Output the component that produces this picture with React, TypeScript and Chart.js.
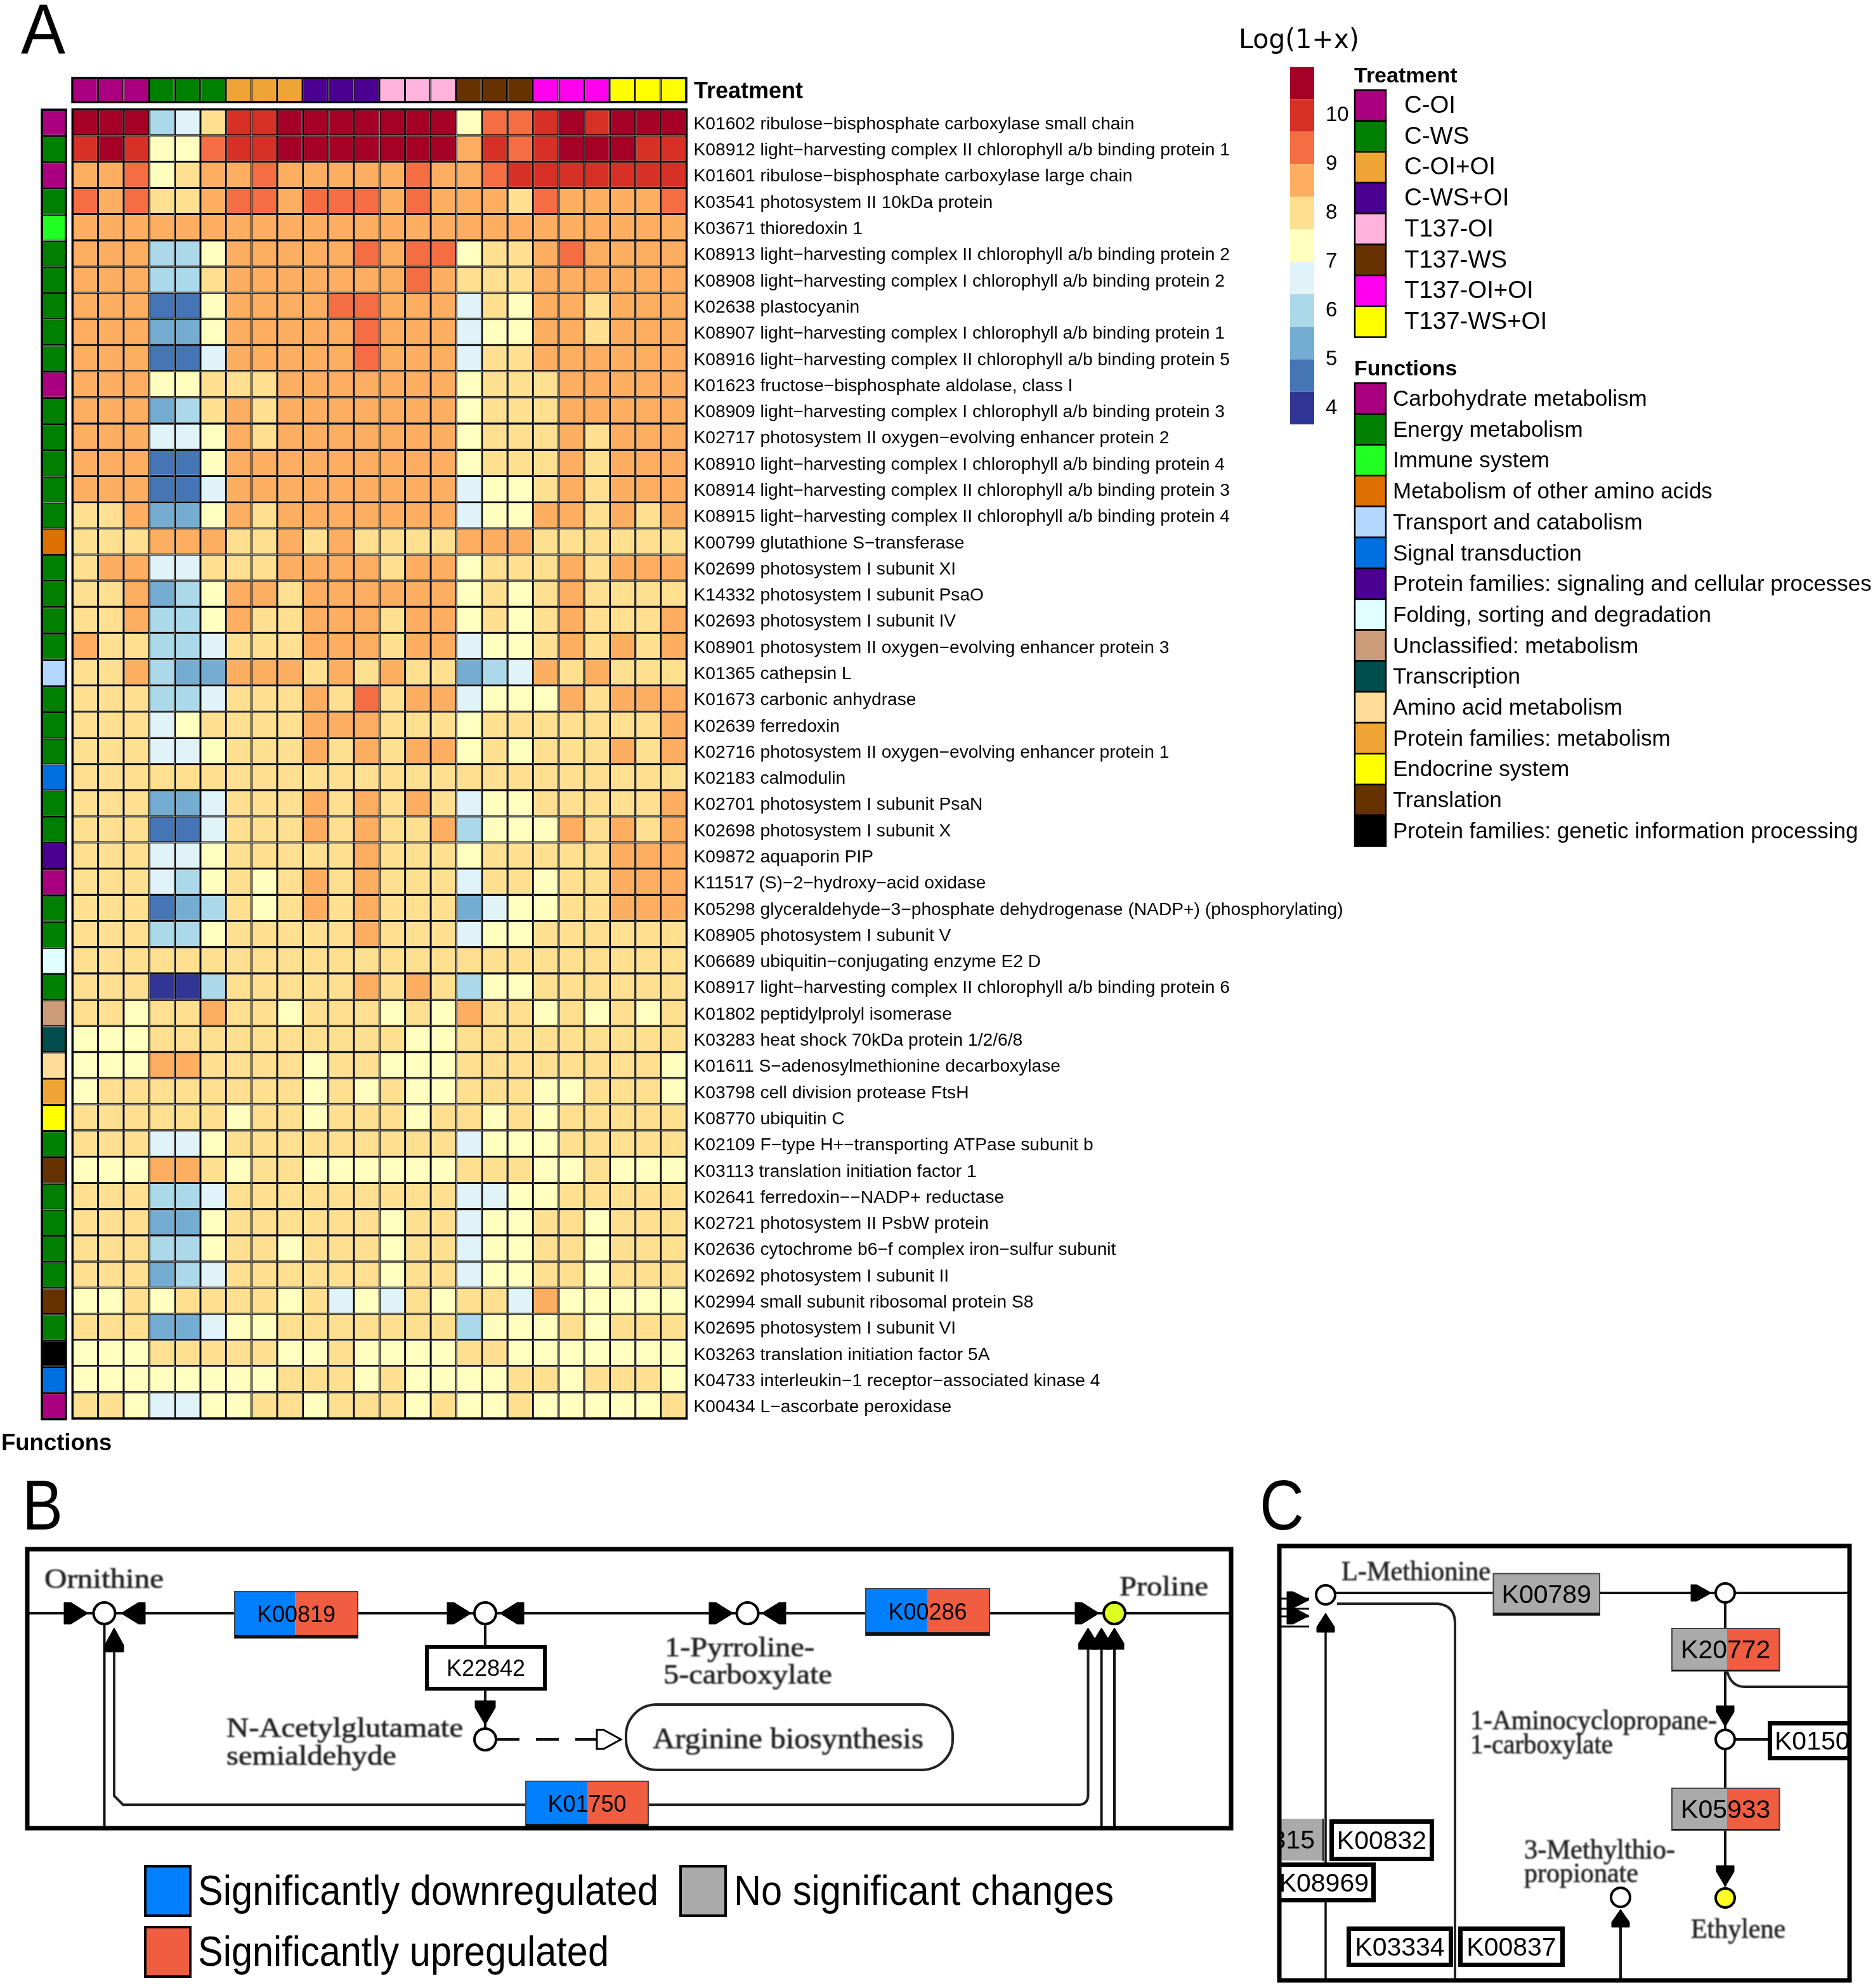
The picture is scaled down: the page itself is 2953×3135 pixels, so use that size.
import React, { useEffect, useRef } from "react";
import { Chart, registerables } from "chart.js";

Chart.register(...registerables);

const treatments = ["C-OI", "C-WS", "C-OI+OI", "C-WS+OI", "T137-OI", "T137-WS", "T137-OI+OI", "T137-WS+OI"];
const treatmentColors = ["#AA007F", "#008000", "#EFA535", "#4B0091", "#FFB3DD", "#663300", "#FF00EE", "#FFFF00"];
const replicates = [1, 2, 3];

const functionNames = [
  "Carbohydrate metabolism",
  "Energy metabolism",
  "Immune system",
  "Metabolism of other amino acids",
  "Transport and catabolism",
  "Signal transduction",
  "Protein families: signaling and cellular processes",
  "Folding, sorting and degradation",
  "Unclassified: metabolism",
  "Transcription",
  "Amino acid metabolism",
  "Protein families: metabolism",
  "Endocrine system",
  "Translation",
  "Protein families: genetic information processing",
];
const functionColors = ["#AA007F", "#008000", "#22FF22", "#DD7000", "#B3D7FF", "#0070E0", "#4B0091", "#E0FFFF", "#CC9B78", "#004D4D", "#FFDD99", "#EFA535", "#FFFF00", "#663300", "#000000"];

const rowLabels = [
  "K01602 ribulose−bisphosphate carboxylase small chain",
  "K08912 light−harvesting complex II chlorophyll a/b binding protein 1",
  "K01601 ribulose−bisphosphate carboxylase large chain",
  "K03541 photosystem II 10kDa protein",
  "K03671 thioredoxin 1",
  "K08913 light−harvesting complex II chlorophyll a/b binding protein 2",
  "K08908 light−harvesting complex I chlorophyll a/b binding protein 2",
  "K02638 plastocyanin",
  "K08907 light−harvesting complex I chlorophyll a/b binding protein 1",
  "K08916 light−harvesting complex II chlorophyll a/b binding protein 5",
  "K01623 fructose−bisphosphate aldolase, class I",
  "K08909 light−harvesting complex I chlorophyll a/b binding protein 3",
  "K02717 photosystem II oxygen−evolving enhancer protein 2",
  "K08910 light−harvesting complex I chlorophyll a/b binding protein 4",
  "K08914 light−harvesting complex II chlorophyll a/b binding protein 3",
  "K08915 light−harvesting complex II chlorophyll a/b binding protein 4",
  "K00799 glutathione S−transferase",
  "K02699 photosystem I subunit XI",
  "K14332 photosystem I subunit PsaO",
  "K02693 photosystem I subunit IV",
  "K08901 photosystem II oxygen−evolving enhancer protein 3",
  "K01365 cathepsin L",
  "K01673 carbonic anhydrase",
  "K02639 ferredoxin",
  "K02716 photosystem II oxygen−evolving enhancer protein 1",
  "K02183 calmodulin",
  "K02701 photosystem I subunit PsaN",
  "K02698 photosystem I subunit X",
  "K09872 aquaporin PIP",
  "K11517 (S)−2−hydroxy−acid oxidase",
  "K05298 glyceraldehyde−3−phosphate dehydrogenase (NADP+) (phosphorylating)",
  "K08905 photosystem I subunit V",
  "K06689 ubiquitin−conjugating enzyme E2 D",
  "K08917 light−harvesting complex II chlorophyll a/b binding protein 6",
  "K01802 peptidylprolyl isomerase",
  "K03283 heat shock 70kDa protein 1/2/6/8",
  "K01611 S−adenosylmethionine decarboxylase",
  "K03798 cell division protease FtsH",
  "K08770 ubiquitin C",
  "K02109 F−type H+−transporting ATPase subunit b",
  "K03113 translation initiation factor 1",
  "K02641 ferredoxin−−NADP+ reductase",
  "K02721 photosystem II PsbW protein",
  "K02636 cytochrome b6−f complex iron−sulfur subunit",
  "K02692 photosystem I subunit II",
  "K02994 small subunit ribosomal protein S8",
  "K02695 photosystem I subunit VI",
  "K03263 translation initiation factor 5A",
  "K04733 interleukin−1 receptor−associated kinase 4",
  "K00434 L−ascorbate peroxidase",
];

const rowFunctions = [0, 1, 0, 1, 2, 1, 1, 1, 1, 1, 0, 1, 1, 1, 1, 1, 3, 1, 1, 1, 1, 4, 1, 1, 1, 5, 1, 1, 6, 0, 1, 1, 7, 1, 8, 9, 10, 11, 12, 1, 13, 1, 1, 1, 1, 13, 1, 14, 5, 0];

const heatValues = [
  [10.6,10.6,10.6, 6,6.6,8, 10,10,10.6, 10.6,10.6,10.6, 10.6,10.6,10.6, 7.3,9.3,9.3, 10,10.6,10, 10.6,10.6,10.6],
  [10,10.6,10, 7.3,7.3,9.3, 10,10,10.6, 10.6,10.6,10.6, 10.6,10.6,10.6, 8.6,10,9.3, 10,10.6,10.6, 10.6,10,10],
  [8.6,8.6,9.3, 7.3,8,8.6, 8.6,9.3,8.6, 8.6,8.6,8.6, 8.6,9.3,8.6, 8.6,9.3,10, 10,10,10, 10,10,10],
  [9.3,8.6,9.3, 8,8,8.6, 9.3,9.3,8.6, 9.3,9.3,9.3, 8.6,9.3,8.6, 8.6,8.6,8, 9.3,8.6,8.6, 8.6,8.6,9.3],
  [8.6,8.6,8.6, 8.6,8.6,8.6, 8.6,8.6,8.6, 8.6,8.6,8.6, 8.6,8.6,8.6, 8.6,8.6,8.6, 8.6,8.6,8.6, 8.6,8.6,8.6],
  [8.6,8.6,8.6, 6,6,7.3, 8.6,8.6,8.6, 8.6,8.6,9.3, 8.6,9.3,9.3, 7.3,8,8, 8.6,9.3,8.6, 8.6,8.6,8.6],
  [8.6,8.6,8.6, 6,6,8, 8.6,8.6,8.6, 8.6,8.6,8.6, 8.6,9.3,8.6, 8,8,8, 8.6,8.6,8.6, 8.6,8.6,8.6],
  [8.6,8.6,8.6, 4.6,4.6,7.3, 8.6,8.6,8.6, 8.6,9.3,9.3, 8.6,8.6,8.6, 6.6,8,7.3, 8.6,8.6,8, 8.6,8.6,8.6],
  [8.6,8.6,8.6, 5.3,5.3,7.3, 8.6,8.6,8.6, 8.6,8.6,9.3, 8.6,8.6,8.6, 6.6,7.3,7.3, 8.6,8.6,8, 8.6,8.6,8.6],
  [8.6,8.6,8.6, 4.6,4.6,6.6, 8.6,8.6,8.6, 8.6,8.6,9.3, 8.6,8.6,8.6, 6.6,8,8, 8.6,8.6,8.6, 8.6,8.6,8.6],
  [8.6,8.6,8.6, 7.3,7.3,8, 8,8,8.6, 8.6,8.6,8.6, 8.6,8.6,8.6, 7.3,8,8, 8,8.6,8.6, 8.6,8.6,8.6],
  [8.6,8.6,8.6, 5.3,6,8, 8.6,8,8.6, 8.6,8.6,8.6, 8.6,8.6,8.6, 7.3,8,8, 8,8.6,8.6, 8.6,8.6,8.6],
  [8.6,8.6,8.6, 6.6,6.6,7.3, 8.6,8,8.6, 8.6,8.6,8.6, 8.6,8.6,8.6, 7.3,8,8, 8,8.6,8, 8.6,8.6,8.6],
  [8.6,8.6,8.6, 4.6,4.6,7.3, 8.6,8.6,8.6, 8.6,8.6,8.6, 8.6,8.6,8.6, 7.3,8,8, 8,8.6,8, 8.6,8.6,8.6],
  [8.6,8.6,8.6, 4.6,4.6,6.6, 8.6,8.6,8.6, 8.6,8.6,8.6, 8.6,8.6,8.6, 6.6,7.3,7.3, 8,8.6,8, 8.6,8.6,8.6],
  [8,8,8.6, 5.3,5.3,7.3, 8.6,8,8.6, 8.6,8.6,8.6, 8.6,8.6,8.6, 6.6,7.3,7.3, 8.6,8.6,8, 8.6,8,8.6],
  [8,8,8, 8.6,8.6,8.6, 8,8,8.6, 8,8.6,8, 8,8,8, 8.6,8.6,8.6, 8,8,8, 8,8,8],
  [8,8.6,8.6, 6.6,6.6,8, 8,8,8.6, 8.6,8.6,8.6, 8,8.6,8.6, 7.3,8,8, 8,8.6,8, 8.6,8.6,8.6],
  [8,8,8.6, 5.3,6,7.3, 8.6,8.6,8, 8.6,8.6,8.6, 8.6,8.6,8.6, 7.3,8,7.3, 8,8.6,8, 8,8,8],
  [8,8,8.6, 6,6,7.3, 8.6,8,8, 8.6,8.6,8.6, 8,8.6,8.6, 7.3,8,7.3, 8,8.6,8, 8,8,8.6],
  [8.6,8,8, 6,6,6.6, 8,8,8, 8.6,8.6,8.6, 8,8.6,8.6, 6.6,7.3,7.3, 8,8.6,8, 8.6,8,8.6],
  [8,8,8.6, 6,5.3,5.3, 8.6,8.6,8.6, 8,8.6,8, 8.6,8,8, 5.3,6,6.6, 8.6,8,8.6, 8,8,8],
  [8,8,8, 6,6,6.6, 8,8,8, 8.6,8,9.3, 8,8.6,8.6, 6.6,7.3,7.3, 7.3,8.6,8, 8.6,8.6,8.6],
  [8,8,8, 6.6,7.3,8, 8,8,8, 8.6,8.6,8.6, 8,8,8, 7.3,8,8, 8,8,8, 8,8,8.6],
  [8,8,8, 6.6,6.6,7.3, 8,8,8, 8.6,8,8.6, 8,8.6,8.6, 7.3,8,7.3, 8,8,8, 8.6,8,8.6],
  [8,8,8, 8,8,8, 8,8,8, 8,8,8, 8,8,8, 8,8,8, 8,8,8, 8,8,8],
  [8,8,8, 5.3,5.3,6.6, 8,8,8, 8.6,8,8.6, 8,8.6,8, 6.6,7.3,7.3, 8,8,8, 8,8,8.6],
  [8,8,8, 4.6,4.6,6.6, 8,8,8, 8.6,8,8.6, 8,8,8.6, 6,7.3,7.3, 7.3,8.6,8, 8.6,8,8.6],
  [8,8,8, 6.6,6.6,7.3, 8,8,8, 8,8,8.6, 8,8,8, 7.3,8,8, 8,8,8, 8.6,8.6,8.6],
  [8,8,8, 6.6,6,7.3, 8,7.3,8, 8.6,8,8.6, 8,8,8, 6.6,8,8, 7.3,8,8, 8.6,8.6,8.6],
  [8,8,8, 4.6,5.3,6, 8,7.3,8, 8.6,8,8.6, 8,8,8, 5.3,6.6,7.3, 7.3,8,8, 8.6,8.6,8.6],
  [8,8,8, 6,6,7.3, 8,8,8, 8,8,8.6, 8,8,8, 6.6,7.3,7.3, 8,8,8, 8,8,8],
  [8,8,8, 8,8,8, 8,8,8, 8,8,8, 8,8,8, 8,8,8, 8,8,8, 8,8,8],
  [8,8,8, 4,4,6, 8,8,8, 8,8,8.6, 8,8.6,8, 6,7.3,7.3, 8,8,8, 8,8,8],
  [8,8,7.3, 8,8,8.6, 8,8,7.3, 8,8,8, 7.3,8,7.3, 8.6,8,8, 7.3,8,7.3, 8,7.3,8],
  [7.3,7.3,7.3, 8,8,8, 8,8,8, 8,8,8, 8,7.3,7.3, 8,8,8, 8,8,8, 8,8,8],
  [7.3,7.3,7.3, 8.6,8.6,8, 8,8,8, 7.3,8,8, 7.3,7.3,7.3, 8,8,8, 8,8,8, 8,8,7.3],
  [7.3,8,8, 8,8,8, 8,8,8, 7.3,8,7.3, 8,7.3,7.3, 8,8,8, 7.3,7.3,8, 8,8,7.3],
  [8,8,8, 8,8,8, 7.3,8,8, 7.3,8,8, 8,7.3,8, 8,7.3,8, 7.3,8,8, 8,8,8],
  [8,8,8, 6.6,6.6,7.3, 8,8,8, 8,8,8, 8,8,8, 6.6,7.3,7.3, 7.3,8,8, 8,8,8],
  [7.3,7.3,7.3, 8.6,8.6,8, 7.3,8,8, 7.3,7.3,7.3, 7.3,7.3,7.3, 8,8,8, 7.3,7.3,8, 7.3,7.3,7.3],
  [8,8,8, 6,6,6.6, 8,8,8, 8,8,8, 8,8,8, 6.6,6.6,7.3, 7.3,8,8, 8,8,8],
  [8,8,8, 5.3,5.3,7.3, 8,8,8, 8,8,8, 7.3,8,8, 6.6,7.3,7.3, 8,8,7.3, 8,8,8],
  [8,8,8, 6,6,7.3, 8,8,7.3, 8,8,8, 7.3,8,8, 6.6,7.3,7.3, 8,8,7.3, 8,8,8],
  [8,8,8, 5.3,6,6.6, 8,8,8, 8,8,8, 7.3,8,8, 6.6,7.3,7.3, 8,8,7.3, 8,8,8],
  [7.3,7.3,8, 7.3,8,8, 8,8,7.3, 8,6.6,7.3, 6.6,8,7.3, 8,8,6.6, 8.6,7.3,7.3, 7.3,7.3,7.3],
  [8,8,8, 5.3,5.3,6.6, 7.3,7.3,8, 8,8,8, 8,8,8, 6,7.3,7.3, 7.3,8,7.3, 8,8,8],
  [7.3,7.3,7.3, 8,8,8, 8,8,7.3, 7.3,8,7.3, 7.3,7.3,7.3, 8,8,7.3, 7.3,7.3,7.3, 7.3,7.3,7.3],
  [7.3,7.3,7.3, 7.3,7.3,7.3, 7.3,7.3,8, 8,8,7.3, 8,7.3,7.3, 7.3,7.3,8, 8,7.3,8, 8,8,7.3],
  [8,8,7.3, 6.6,6.6,7.3, 7.3,8,8, 7.3,8,8, 8,7.3,8, 7.3,7.3,8, 7.3,7.3,7.3, 7.3,7.3,8],
];

const colorBreaks = [3.64, 4.31, 4.97, 5.64, 6.31, 6.97, 7.64, 8.31, 8.97, 9.64, 10.31, 10.97];
const levelColors = ["#313695", "#4575B4", "#74ADD1", "#ABD9E9", "#E0F3F8", "#FFFFBF", "#FEE090", "#FDAE61", "#F46D43", "#D73027", "#A50026"];
const colorTicks = [4, 5, 6, 7, 8, 9, 10];

const SANS = '"Liberation Sans", Arial, sans-serif';
const SERIF = '"Liberation Serif", serif';
const BLUE = "#007FFF";
const RED = "#F05D41";
const GRAY = "#AAAAAA";

const columnLabels = treatments.flatMap((t) => replicates.map((r) => `${t} ${r}`));
const columnColors = treatments.flatMap((_, i) => replicates.map(() => treatmentColors[i]));

const colorOf = (v: number) => {
  const i = colorBreaks.findIndex((b, k) => k < levelColors.length && v >= b && v < colorBreaks[k + 1]);
  return levelColors[Math.max(0, i)];
};

const outline = (lineWidth: number) => ({
  id: "outline",
  afterDatasetsDraw(chart: any) {
    const { ctx, chartArea: a } = chart;
    ctx.save();
    ctx.strokeStyle = "#000";
    ctx.lineWidth = lineWidth;
    ctx.strokeRect(a.left, a.top, a.right - a.left, a.bottom - a.top);
    ctx.restore();
  },
});

const baseOptions = {
  responsive: false,
  animation: false as const,
  devicePixelRatio: 1,
  plugins: { legend: { display: false }, tooltip: { enabled: false } },
};

const cellBorder = {
  borderColor: "#000",
  borderWidth: 1.7,
  borderSkipped: false,
  inflateAmount: 0,
  categoryPercentage: 1,
  barPercentage: 1,
};

const GRID_LEFT = 114.3;
const GRID_RIGHT = 1082.5;
const GRID_TOP = 172.5;
const GRID_BOTTOM = 2237;

function Tri({ x, y, a, L = 38, W = 17, hollow = false }: any) {
  const pts = `0,0 ${-L * 0.72},${-W} ${-L},${-W} ${-L},${W} ${-L * 0.72},${W}`;
  return <polygon transform={`translate(${x} ${y}) rotate(${a})`} points={pts} fill={hollow ? "#fff" : "#000"} stroke="#000" strokeWidth={hollow ? 3 : 1} />;
}

function Node({ x, y, r = 17, fill = "#fff" }: any) {
  return <circle cx={x} cy={y} r={r} fill={fill} stroke="#000" strokeWidth={4} />;
}

function L({ x1, y1, x2, y2, w = 4, dash }: any) {
  return <line x1={x1} y1={y1} x2={x2} y2={y2} stroke="#111" strokeWidth={w} strokeDasharray={dash} />;
}

function T({ x, y, size, text, anchor = "start", width, family = SANS, weight = "normal", fill = "#000", blur = false }: any) {
  return (
    <text
      x={x}
      y={y}
      fontSize={size}
      fontFamily={family}
      fontWeight={weight}
      fill={fill}
      textAnchor={anchor}
      filter={blur ? "url(#soft)" : undefined}
      stroke={blur ? fill : undefined}
      strokeWidth={blur ? 0.7 : undefined}
      {...(width ? { textLength: width, lengthAdjust: "spacingAndGlyphs" } : {})}
    >
      {text}
    </text>
  );
}

function Enzyme({ x0, x1, xm, y0, y1, left, right, label, size = 36, bottom = 5 }: any) {
  return (
    <g>
      <rect x={x0} y={y0} width={xm - x0} height={y1 - y0} fill={left} />
      <rect x={xm} y={y0} width={x1 - xm} height={y1 - y0} fill={right} />
      <rect x={x0} y={y0} width={x1 - x0} height={y1 - y0} fill="none" stroke="#444" strokeWidth={2} />
      <rect x={x0} y={y1 - bottom} width={x1 - x0} height={bottom} fill="#111" />
      <T x={(x0 + x1) / 2} y={(y0 + y1) / 2 + size * 0.33} size={size} text={label} anchor="middle" />
    </g>
  );
}

function Plain({ x0, x1, y0, y1, label, size = 41, w = 7, anchor = "middle", tx }: any) {
  return (
    <g>
      <rect x={x0 + w / 2} y={y0 + w / 2} width={x1 - x0 - w} height={y1 - y0 - w} fill="#fff" stroke="#000" strokeWidth={w} />
      <T x={tx ?? (x0 + x1) / 2} y={(y0 + y1) / 2 + size * 0.35} size={size} text={label} anchor={anchor} />
    </g>
  );
}

function Serif({ x, y, size = 44, text, width }: any) {
  return <T x={x} y={y} size={size} text={text} width={width} family={SERIF} fill="#222" blur />;
}

export default function App() {
  const heatRef = useRef<HTMLCanvasElement>(null);
  const topRef = useRef<HTMLCanvasElement>(null);
  const sideRef = useRef<HTMLCanvasElement>(null);
  const scaleRef = useRef<HTMLCanvasElement>(null);

  useEffect(() => {
    const heat = new Chart(heatRef.current!, {
      type: "bar",
      data: {
        labels: columnLabels,
        datasets: rowLabels.map((label, i) => ({
          label,
          data: heatValues[i].map((v, j) => ({ x: columnLabels[j], h: 1, v })) as any,
          parsing: { xAxisKey: "x", yAxisKey: "h" },
          backgroundColor: (c: any) => colorOf(c.raw.v),
          ...cellBorder,
        })),
      },
      options: {
        ...baseOptions,
        layout: { padding: { left: GRID_LEFT, top: GRID_TOP, bottom: 2245 - GRID_BOTTOM, right: 0 } },
        scales: {
          x: { stacked: true, display: false },
          y: {
            stacked: true,
            position: "right",
            reverse: true,
            min: 0,
            max: rowLabels.length,
            afterBuildTicks: (axis: any) => {
              axis.ticks = rowLabels.map((_, i) => ({ value: i + 0.5 }));
            },
            afterFit: (axis: any) => {
              axis.width = 2953 - GRID_RIGHT;
              axis.paddingTop = 0;
              axis.paddingBottom = 0;
            },
            grid: { display: false, drawTicks: false },
            border: { display: false },
            ticks: {
              autoSkip: false,
              padding: 11,
              labelOffset: 3,
              color: "#000",
              font: { family: SANS, size: 28.2 },
              callback: (v: any) => rowLabels[Math.floor(v)],
            },
          },
        },
      } as any,
      plugins: [outline(3.4)],
    });

    const top = new Chart(topRef.current!, {
      type: "bar",
      data: {
        labels: columnLabels,
        datasets: [
          {
            label: "Treatment",
            data: columnLabels.map(() => 1),
            backgroundColor: columnColors,
            ...cellBorder,
          } as any,
        ],
      },
      options: {
        ...baseOptions,
        layout: { padding: 2 },
        scales: { x: { display: false }, y: { display: false, min: 0, max: 1 } },
      } as any,
      plugins: [outline(3.4)],
    });

    const side = new Chart(sideRef.current!, {
      type: "bar",
      data: {
        labels: ["Functions"],
        datasets: rowLabels.map((label, i) => ({
          label,
          data: [1],
          backgroundColor: functionColors[rowFunctions[i]],
          ...cellBorder,
        })) as any,
      },
      options: {
        ...baseOptions,
        layout: { padding: 2 },
        scales: {
          x: { stacked: true, display: false },
          y: { stacked: true, display: false, reverse: true, min: 0, max: rowLabels.length },
        },
      } as any,
      plugins: [outline(3.4)],
    });

    const scale = new Chart(scaleRef.current!, {
      type: "bar",
      data: {
        labels: ["Log(1+x)"],
        datasets: levelColors.map((color, i) => ({
          label: String(i),
          data: [[colorBreaks[i], colorBreaks[i + 1]]],
          backgroundColor: color,
          borderWidth: 0,
          inflateAmount: 0,
          grouped: false,
          categoryPercentage: 1,
          barPercentage: 1,
        })) as any,
      },
      options: {
        ...baseOptions,
        layout: { padding: { top: 10.4, bottom: 10.6, left: 0, right: 0 } },
        scales: {
          x: { display: false },
          y: {
            position: "right",
            min: colorBreaks[0],
            max: colorBreaks[colorBreaks.length - 1],
            afterBuildTicks: (axis: any) => {
              axis.ticks = colorTicks.map((value) => ({ value }));
            },
            afterFit: (axis: any) => {
              axis.width = 62;
              axis.paddingTop = 0;
              axis.paddingBottom = 0;
            },
            grid: { display: false, drawTicks: false },
            border: { display: false },
            ticks: { padding: 18, labelOffset: 2, color: "#000", font: { family: SANS, size: 33 }, callback: (v: any) => String(v) },
          },
        },
      } as any,
    });

    return () => {
      heat.destroy();
      top.destroy();
      side.destroy();
      scale.destroy();
    };
  }, []);

  const abs = (left: number, top: number): React.CSSProperties => ({ position: "absolute", left, top, display: "block" });

  return (
    <div style={{ position: "absolute", left: 0, top: 0, width: 2953, height: 3135, background: "#fff", overflow: "hidden" }}>
      <canvas ref={heatRef} width={2953} height={2245} style={abs(0, 0)} />
      <canvas ref={topRef} width={972} height={42} style={abs(112.3, 121)} />
      <canvas ref={sideRef} width={42} height={2069} style={abs(64, 170.5)} />
      <canvas ref={scaleRef} width={100} height={585} style={abs(2034, 95)} />
      <svg width={2953} height={3135} style={abs(0, 0)}>
        <defs>
          <filter id="soft" x="-5%" y="-20%" width="110%" height="140%">
            <feGaussianBlur stdDeviation="0.8" />
          </filter>
          <clipPath id="clipC">
            <rect x={2017} y={2438} width={899} height={685} />
          </clipPath>
        </defs>

        <T x={33} y={84} size={112} text="A" width={70} />
        <T x={35} y={2412} size={112} text="B" width={64} />
        <T x={1986} y={2412} size={112} text="C" width={70} />

        <T x={1094} y={155} size={36} text="Treatment" weight="bold" />
        <T x={2} y={2287} size={36.5} text="Functions" weight="bold" />
        <T x={1953} y={76} size={42} text="Log(1+x)" family='"DejaVu Sans", sans-serif' width={190} />

        <T x={2135} y={130} size={34} text="Treatment" weight="bold" />
        {treatments.map((t, i) => (
          <g key={t}>
            <rect x={2136} y={142 + i * 48.7} width={49} height={48.7} fill={treatmentColors[i]} stroke="#000" strokeWidth={2.5} />
            <T x={2214} y={178 + i * 48.7} size={38.4} text={t} />
          </g>
        ))}

        <T x={2135} y={592} size={34} text="Functions" weight="bold" />
        {functionNames.map((t, i) => (
          <g key={t}>
            <rect x={2136} y={604 + i * 48.7} width={49} height={48.7} fill={functionColors[i]} stroke="#000" strokeWidth={2.5} />
            <T x={2196} y={628 + i * 48.7 + 12} size={35} text={t} />
          </g>
        ))}

        {/* Panel B */}
        <L x1={46} y1={2544} x2={1940} y2={2544} />
        <L x1={164.5} y1={2544} x2={164.5} y2={2880} />
        <path d="M180 2600 L180 2832 L194 2846 L1700 2846 Q1715.5 2846 1715.5 2830 L1715.5 2595" fill="none" stroke="#222" strokeWidth={4} />
        <L x1={1736.6} y1={2595} x2={1736.6} y2={2880} />
        <L x1={1757} y1={2595} x2={1757} y2={2880} />
        <L x1={765} y1={2544} x2={765} y2={2740} />
        <L x1={783} y1={2743} x2={941} y2={2743} dash="36 26" />
        <Tri x={139} y={2544} a={0} />
        <Tri x={191} y={2544} a={180} />
        <Tri x={180} y={2567} a={-90} L={38} W={15} />
        <Node x={164.5} y={2544} />
        <Tri x={743} y={2544} a={0} />
        <Tri x={788} y={2544} a={180} />
        <Node x={765} y={2544} />
        <Tri x={765} y={2720} a={90} W={16} />
        <Node x={765} y={2743} />
        <Tri x={979} y={2743} a={0} L={38} W={15} hollow />
        <Tri x={1156} y={2544} a={0} />
        <Tri x={1201} y={2544} a={180} />
        <Node x={1178.6} y={2544} />
        <Tri x={1733} y={2544} a={0} />
        <Tri x={1715.5} y={2567} a={-90} L={34} W={15} />
        <Tri x={1736.6} y={2567} a={-90} L={34} W={15} />
        <Tri x={1757} y={2567} a={-90} L={34} W={15} />
        <Node x={1757} y={2544} fill="#DDFF22" />
        <rect x={987} y={2688} width={515} height={103} rx={48} fill="#fff" stroke="#222" strokeWidth={4} />
        <Enzyme x0={370} x1={564} xm={465.5} y0={2510} y1={2583} left={BLUE} right={RED} label="K00819" />
        <Enzyme x0={1365} x1={1560} xm={1462} y0={2505} y1={2579} left={BLUE} right={RED} label="K00286" />
        <Enzyme x0={829} x1={1022} xm={926} y0={2809} y1={2881} left={BLUE} right={RED} label="K01750" />
        <Plain x0={670} x1={862} y0={2594} y1={2666} label="K22842" size={36} w={6} />
        <Serif x={70} y={2504} text="Ornithine" width={188} />
        <Serif x={1765} y={2516} text="Proline" width={140} />
        <Serif x={1048} y={2612} text="1-Pyrroline-" width={236} />
        <Serif x={1046} y={2655} text="5-carboxylate" width={266} />
        <Serif x={357} y={2739} text="N-Acetylglutamate" width={373} />
        <Serif x={357} y={2783} text="semialdehyde" width={268} />
        <Serif x={1029} y={2757} size={46} text="Arginine biosynthesis" width={427} />
        <rect x={43} y={2443} width={1898} height={440} fill="none" stroke="#000" strokeWidth={7} />

        <rect x={229} y={2943} width={71} height={78} fill={BLUE} stroke="#000" strokeWidth={4} />
        <rect x={229} y={3039} width={71} height={78} fill={RED} stroke="#000" strokeWidth={4} />
        <rect x={1073} y={2943} width={71} height={78} fill={GRAY} stroke="#000" strokeWidth={4} />
        <T x={312} y={3004} size={66} text="Significantly downregulated" width={726} />
        <T x={312} y={3100} size={66} text="Significantly upregulated" width={648} />
        <T x={1157} y={3004} size={66} text="No significant changes" width={599} />

        {/* Panel C */}
        <g clipPath="url(#clipC)">
          <L x1={2090} y1={2512} x2={2914} y2={2512} />
          <path d="M2108 2529 L2267 2529 Q2294 2532 2294 2560 L2294 3122" fill="none" stroke="#222" strokeWidth={4} />
          <L x1={2090} y1={2570} x2={2090} y2={3122} w={3.5} />
          <L x1={2086} y1={2868} x2={2086} y2={2935} w={2} />
          <L x1={2720} y1={2512} x2={2720} y2={2975} />
          <path d="M2723 2636 Q2730 2660 2750 2660 L2914 2660" fill="none" stroke="#222" strokeWidth={4} />
          <L x1={2737} y1={2743} x2={2790} y2={2743} />
          <L x1={2555} y1={3035} x2={2555} y2={3122} />
          <L x1={2020} y1={2521} x2={2064} y2={2521} w={3} />
          <L x1={2020} y1={2537} x2={2064} y2={2537} w={3} />
          <L x1={2020} y1={2549} x2={2064} y2={2549} w={3} />
          <L x1={2020} y1={2565} x2={2064} y2={2565} w={3} />
          <Tri x={2064} y={2523} a={0} L={35} W={13} />
          <Tri x={2064} y={2548} a={0} L={35} W={13} />
          <Tri x={2090} y={2544} a={-90} L={30} W={14} />
          <Node x={2090} y={2515} r={15} />
          <Tri x={2698} y={2512} a={0} L={32} W={13} />
          <Node x={2720} y={2512} r={15} />
          <Tri x={2720} y={2723} a={90} L={33} W={14} />
          <Node x={2720} y={2743} r={15} />
          <Tri x={2720} y={2975} a={90} L={33} W={14} />
          <Node x={2720} y={2993} r={15} fill="#FFFF22" />
          <Tri x={2555} y={3011} a={-90} L={28} W={14} />
          <Node x={2555} y={2992} r={15} />
          <Enzyme x0={2354.5} x1={2522} xm={2522} y0={2481.5} y1={2547} left={GRAY} right={GRAY} label="K00789" size={41} bottom={4} />
          <Enzyme x0={2636} x1={2805.5} xm={2723} y0={2568} y1={2635} left={GRAY} right={RED} label="K20772" size={41} bottom={2} />
          <Enzyme x0={2636} x1={2805.5} xm={2723} y0={2820} y1={2886} left={GRAY} right={RED} label="K05933" size={41} bottom={2} />
          <rect x={2017} y={2868} width={68} height={66} fill={GRAY} />
          <T x={2073} y={2915} size={41} text="315" anchor="end" />
          <Plain x0={2096} x1={2261} y0={2869} y1={2935} label="K00832" />
          <Plain x0={2012} x1={2169} y0={2937} y1={3000} label="K08969" anchor="end" tx={2158} />
          <Plain x0={2123} x1={2291} y0={3038} y1={3102} label="K03334" />
          <Plain x0={2299} x1={2467} y0={3038} y1={3102} label="K00837" />
          <Plain x0={2787} x1={2930} y0={2714} y1={2776} label="K0150" anchor="start" tx={2798} />
          <Serif x={2115} y={2492} text="L-Methionine" width={235} />
          <Serif x={2318} y={2727} text="1-Aminocyclopropane-" width={389} />
          <Serif x={2318} y={2765} text="1-carboxylate" width={225} />
          <Serif x={2403} y={2931} text="3-Methylthio-" width={238} />
          <Serif x={2403} y={2968} text="propionate" width={180} />
          <Serif x={2666} y={3056} text="Ethylene" width={149} />
        </g>
        <rect x={2017} y={2438} width={899} height={685} fill="none" stroke="#000" strokeWidth={7} />
      </svg>
    </div>
  );
}
